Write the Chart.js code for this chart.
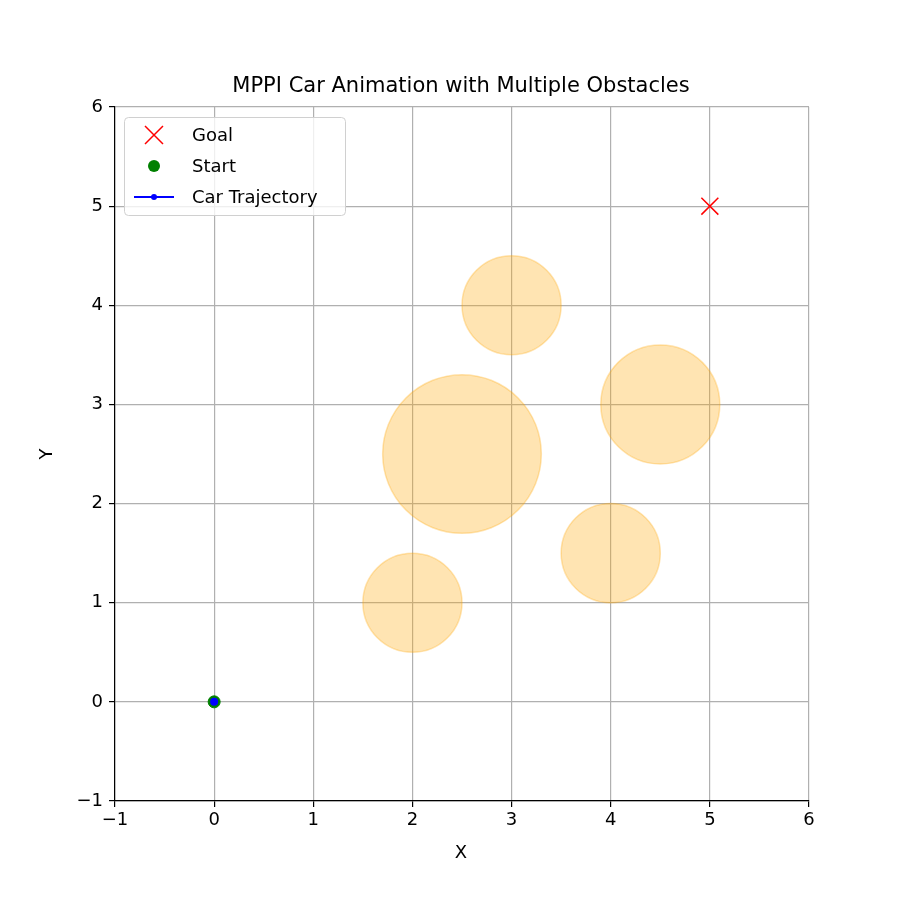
<!DOCTYPE html>
<html>
<head>
<script src="https://cdn.jsdelivr.net/npm/chart.js@4"></script>
<style>body{margin:0;background:#fff}</style>
</head>
<body>
<canvas id="c" width="900" height="900"></canvas>
<script>
const goal = [{x: 5, y: 5}];
const start = [{x: 0, y: 0}];
const trajectory = [{x: 0, y: 0}];
const obstacleX = [3, 4.5, 2.5, 4, 2];
const obstacleY = [4, 3, 2.5, 1.5, 1];
const obstacleR = [0.5, 0.6, 0.8, 0.5, 0.5];
const tickVals = [-1, 0, 1, 2, 3, 4, 5, 6];

const FONT = 'DejaVu Sans';
const fmt = v => v < 0 ? '\u2212' + Math.abs(v) : String(v);

const extras = {
  id: 'extras',
  beforeDatasetsDraw(chart) {
    const ctx = chart.ctx, xs = chart.scales.x, ys = chart.scales.y;
    ctx.save();
    for (let i = 0; i < obstacleX.length; i++) {
      const cx = xs.getPixelForValue(obstacleX[i]);
      const cy = ys.getPixelForValue(obstacleY[i]);
      const r = xs.getPixelForValue(obstacleX[i] + obstacleR[i]) - cx;
      ctx.beginPath();
      ctx.arc(cx, cy, r, 0, Math.PI * 2);
      ctx.fillStyle = 'rgba(255,165,0,0.3)';
      ctx.fill();
      ctx.strokeStyle = 'rgba(255,165,0,0.3)';
      ctx.lineWidth = 1.5;
      ctx.stroke();
    }
    ctx.restore();
  },
  afterDraw(chart) {
    const ctx = chart.ctx;
    ctx.save();
    ctx.fillStyle = '#000';
    ctx.textAlign = 'center';
    ctx.textBaseline = 'middle';
    ctx.font = '21px ' + FONT;
    ctx.fillText('MPPI Car Animation with Multiple Obstacles', 461, 87);
    ctx.font = '18px ' + FONT;
    ctx.fillText('X', 461, 853);
    ctx.translate(47, 454);
    ctx.rotate(-Math.PI / 2);
    ctx.fillText('Y', 0, 0);
    ctx.restore();

    // legend
    ctx.save();
    ctx.fillStyle = 'rgba(255,255,255,0.8)';
    ctx.strokeStyle = '#d0d0d0';
    ctx.lineWidth = 1;
    ctx.beginPath();
    ctx.roundRect(124.5, 117.5, 221, 98, 4);
    ctx.fill(); ctx.stroke();
    ctx.font = '18px ' + FONT;
    ctx.textBaseline = 'middle';
    ctx.textAlign = 'left';
    ctx.fillStyle = '#000';
    ctx.fillText('Goal', 192, 136);
    ctx.fillText('Start', 192, 167);
    ctx.fillText('Car Trajectory', 192, 198);
    ctx.strokeStyle = 'red'; ctx.lineWidth = 1.5;
    ctx.beginPath();
    ctx.moveTo(145, 126); ctx.lineTo(163, 144);
    ctx.moveTo(163, 126); ctx.lineTo(145, 144);
    ctx.stroke();
    ctx.fillStyle = 'green';
    ctx.beginPath(); ctx.arc(154, 166, 6, 0, Math.PI * 2); ctx.fill();
    ctx.strokeStyle = 'blue'; ctx.lineWidth = 2;
    ctx.beginPath(); ctx.moveTo(134, 197); ctx.lineTo(174, 197); ctx.stroke();
    ctx.fillStyle = 'blue';
    ctx.beginPath(); ctx.arc(154, 197, 3, 0, Math.PI * 2); ctx.fill();
    ctx.restore();
  }
};

new Chart(document.getElementById('c'), {
  type: 'scatter',
  data: {
    datasets: [
      {label: 'Goal', data: goal, pointStyle: 'cross', rotation: 45, pointRadius: 12, order: 3,
       borderColor: 'red', backgroundColor: 'red', borderWidth: 1.5},
      {label: 'Start', data: start, pointRadius: 6, backgroundColor: 'green', borderColor: 'green', order: 2},
      {label: 'Car Trajectory', data: trajectory, showLine: true, pointRadius: 3, order: 1,
       borderColor: 'blue', backgroundColor: 'blue', borderWidth: 2}
    ]
  },
  options: {
    responsive: false,
    animation: false,
    layout: {padding: {top: 107, right: 91, left: 0, bottom: 0}},
    plugins: {legend: {display: false}, title: {display: false}, tooltip: {enabled: false}},
    scales: {
      x: {
        type: 'linear', min: -1, max: 6,
        afterBuildTicks: s => { s.ticks = tickVals.map(v => ({value: v})); },
        afterFit: s => { s.height = 99; },
        ticks: {color: '#000', font: {family: FONT, size: 18}, padding: 3, callback: fmt, maxRotation: 0},
        grid: {color: '#b0b0b0', lineWidth: 1.2, tickLength: 6, tickColor: '#000'},
        border: {color: '#000', width: 1.2}
      },
      y: {
        type: 'linear', min: -1, max: 6,
        afterBuildTicks: s => { s.ticks = tickVals.map(v => ({value: v})); },
        afterFit: s => { s.width = 115; },
        ticks: {color: '#000', font: {family: FONT, size: 18}, padding: 6, callback: fmt},
        grid: {color: '#b0b0b0', lineWidth: 1.2, tickLength: 6, tickColor: '#000'},
        border: {color: '#000', width: 1.2}
      }
    }
  },
  plugins: [extras]
});
</script>
</body>
</html>
